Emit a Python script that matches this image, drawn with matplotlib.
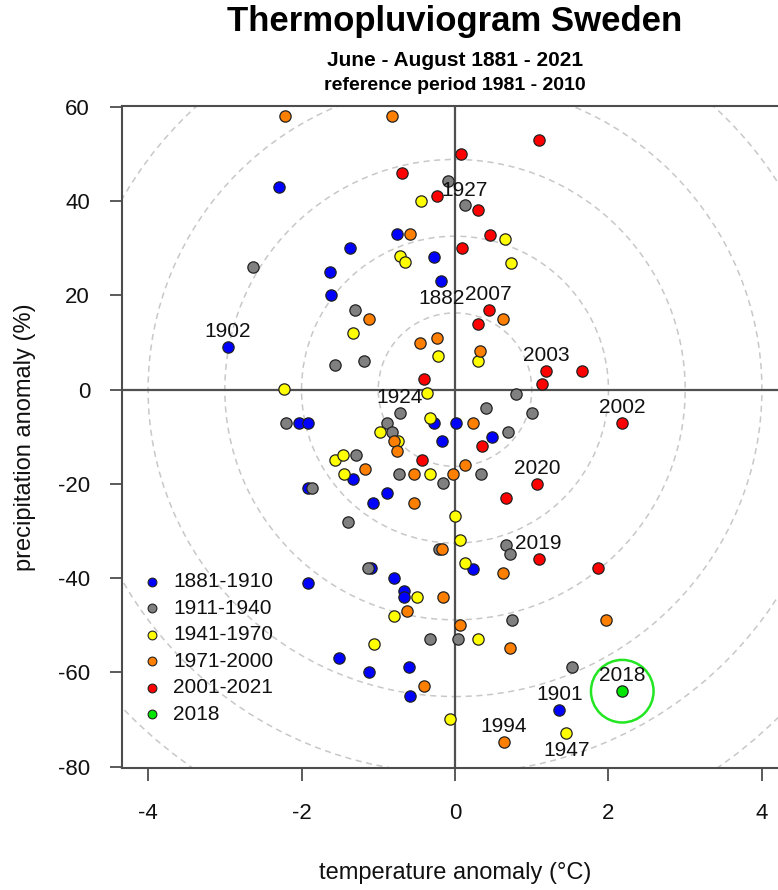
import matplotlib
matplotlib.use('Agg')
import matplotlib.pyplot as plt
from matplotlib.patches import Ellipse

plt.rcParams['font.family'] = ['Liberation Sans', 'DejaVu Sans']
plt.rcParams['axes.unicode_minus'] = False

# temperature anomaly (degC) and precipitation anomaly (%) per period
t_1881 = [-2.30, -0.76, -1.37, -0.28, -0.18, -1.63, -1.61, -2.96, -0.27, 0.01,
          -2.03, -1.92, -0.17, -1.33, -1.92, -0.88, -1.07, -1.09, -0.80, -1.92,
          -0.67, -0.67, -1.51, -1.12, -0.60, -0.59, 0.48, 0.24, 1.36]
p_1881 = [43.0, 33.0, 30.0, 28.2, 23.0, 25.0, 20.1, 9.0, -7.0, -7.0,
          -7.0, -7.0, -10.9, -18.9, -20.9, -22.0, -24.0, -37.9, -39.9, -41.0,
          -42.8, -44.0, -56.9, -59.9, -58.9, -65.0, -10.0, -38.0, -67.9]

t_1911 = [-0.09, 0.13, -2.63, -1.30, -1.57, -1.18, -0.72, -2.20, -0.89, -0.82,
          -1.29, -0.73, -0.16, -1.87, -1.40, -1.13, -0.33, 0.04, 0.79, 0.41,
          1.00, 0.69, 0.34, 0.67, 0.72, 0.74, 1.52, -0.21]
p_1911 = [44.2, 39.1, 26.1, 17.0, 5.2, 6.1, -4.9, -7.0, -7.0, -9.0,
          -13.9, -18.0, -19.9, -20.9, -28.1, -37.9, -52.9, -52.9, -0.9, -3.9,
          -5.0, -9.0, -18.0, -32.9, -34.9, -48.8, -58.9, -33.9]

t_1941 = [-0.44, -0.72, -0.65, -1.33, -0.22, -2.23, -0.37, -0.32, -0.98, -0.74,
          -1.57, -1.46, -1.45, -0.33, 0.00, 0.07, -0.49, -0.80, -1.05, -0.06,
          0.65, 0.73, 0.30, 0.13, 0.30, 1.45]
p_1941 = [40.0, 28.3, 27.0, 12.1, 7.1, 0.1, -0.8, -6.0, -9.0, -10.9,
          -14.9, -13.9, -18.0, -18.0, -26.9, -31.9, -44.0, -48.0, -53.9, -70.0,
          32.0, 26.9, 6.1, -36.8, -52.9, -72.8]

t_1971 = [-2.21, -0.82, -0.59, -1.12, -0.45, -0.23, -0.79, -0.75, -1.17, -0.53,
          -0.02, -0.54, -0.17, -0.16, -0.62, 0.07, -0.41, 0.63, 0.32, 0.23,
          0.13, 0.62, 1.97, 0.72, 0.64]
p_1971 = [58.1, 58.1, 33.0, 15.0, 10.0, 11.0, -10.9, -13.0, -16.9, -18.0,
          -18.0, -24.0, -33.9, -44.0, -46.9, -49.9, -62.9, 15.0, 8.1, -7.0,
          -15.9, -38.9, -48.8, -54.8, -74.8]

t_2001 = [-0.69, -0.24, -0.41, -0.43, 1.10, 0.08, 0.30, 0.46, 0.09, 0.44,
          0.30, 1.19, 1.65, 1.13, 0.35, 2.18, 1.07, 0.66, 1.09, 1.86]
p_2001 = [46.0, 41.1, 2.2, -14.9, 52.9, 50.0, 38.1, 32.9, 30.0, 17.0,
          14.0, 4.0, 4.0, 1.1, -12.0, -7.0, -20.0, -23.0, -35.9, -37.9]

t_2018 = [2.18]
p_2018 = [-64.0]

periods = ['1881-1910', '1911-1940', '1941-1970', '1971-2000', '2001-2021', '2018']
colors = ['#0000ff', '#808080', '#ffff00', '#ff7f00', '#ff0000', '#00e600']

# labelled years
lab_years = ['1902', '1882', '1927', '2007', '2003', '1924', '2002', '2020',
             '2019', '2018', '1901', '1994', '1947']
lab_t = [-2.96, -0.18, 0.13, 0.44, 1.19, -0.72, 2.18, 1.07, 1.09, 2.18, 1.36, 0.64, 1.45]
lab_p = [9.0, 23.0, 39.1, 17.0, 4.0, -4.9, -7.0, -20.0, -35.9, -64.0, -67.9, -74.8, -72.8]
lab_above = [True, False, True, True, True, True, True, True, True, True, True, True, False]

XLIM = (-4.34, 4.34)
YLIM = (-80.3, 60.2)

W, H = 778, 890
fig = plt.figure(figsize=(W / 100, H / 100), dpi=100)
ax_l, ax_b, ax_w, ax_h = 122, 890 - 768, 666, 662
ax = fig.add_axes([ax_l / W, ax_b / H, ax_w / W, ax_h / H])
ax.set_xlim(*XLIM)
ax.set_ylim(*YLIM)

# pixels per data unit, so the rings come out round
sx = ax_w / (XLIM[1] - XLIM[0])
sy = ax_h / (YLIM[1] - YLIM[0])
ratio = sx / sy

for k in range(1, 10):
    ax.add_patch(Ellipse((0, 0), 2 * k, 2 * k * ratio, fill=False,
                         ec='#c8c8c8', lw=1.1, ls=(0, (4, 3)), zorder=1))

ax.axhline(0, color='#505050', lw=1.6, zorder=2)
ax.axvline(0, color='#505050', lw=1.6, zorder=2)

series = [(t_1881, p_1881), (t_1911, p_1911), (t_1941, p_1941),
          (t_1971, p_1971), (t_2001, p_2001), (t_2018, p_2018)]
for (tt, pp), c in zip(series, colors):
    ax.scatter(tt, pp, s=66, c=c, edgecolors='#222222', linewidths=0.9, zorder=3)

# highlight ring around 2018
r_px = 31.3
ax.add_patch(Ellipse((t_2018[0], p_2018[0]), 2 * r_px / sx, 2 * r_px / sy,
                     fill=False, ec='#22e622', lw=1.8, zorder=4))

for yr, tx, py, up in zip(lab_years, lab_t, lab_p, lab_above):
    ax.annotate(yr, (tx, py), xytext=(0, 11 if up else -12.5),
                textcoords='offset points', ha='center', va='center',
                fontsize=15, color='#111111', zorder=5)

# legend drawn by hand, R style
for i, (lab, c) in enumerate(zip(periods, colors)):
    yy = 0.281 - i * 0.0399
    ax.scatter([0.045], [yy], s=40, c=c, edgecolors='#222222', linewidths=0.8,
               transform=ax.transAxes, zorder=5, clip_on=False)
    ax.text(0.0766, yy, lab, transform=ax.transAxes, fontsize=15,
            va='center', ha='left', color='#111111')

for sp in ax.spines.values():
    sp.set_color('#4d4d4d')
    sp.set_linewidth(1.5)

ax.set_xticks([-4, -2, 0, 2, 4])
ax.set_yticks([60, 40, 20, 0, -20, -40, -60, -80])
ax.tick_params(direction='out', length=9, width=1.3, color='#4d4d4d',
               labelsize=16, labelcolor='#111111')
ax.tick_params(axis='y', pad=14)
ax.tick_params(axis='x', pad=16)

fig.text(25 / W, 1 - 437 / H, 'precipitation anomaly (%)', rotation=90,
         ha='center', va='center', fontsize=17, color='#111111')
fig.text(455 / W, 1 - 873 / H, 'temperature anomaly (°C)',
         ha='center', va='center', fontsize=17, color='#111111')

fig.text(455 / W, 1 - 21 / H, 'Thermopluviogram Sweden', ha='center', va='center',
         fontsize=25, fontweight='bold')
fig.text(455 / W, 1 - 60 / H, 'June - August 1881 - 2021', ha='center', va='center',
         fontsize=15, fontweight='bold')
fig.text(455 / W, 1 - 86 / H, 'reference period 1981 - 2010', ha='center', va='center',
         fontsize=14, fontweight='bold')

fig.savefig('out.png', dpi=100)
